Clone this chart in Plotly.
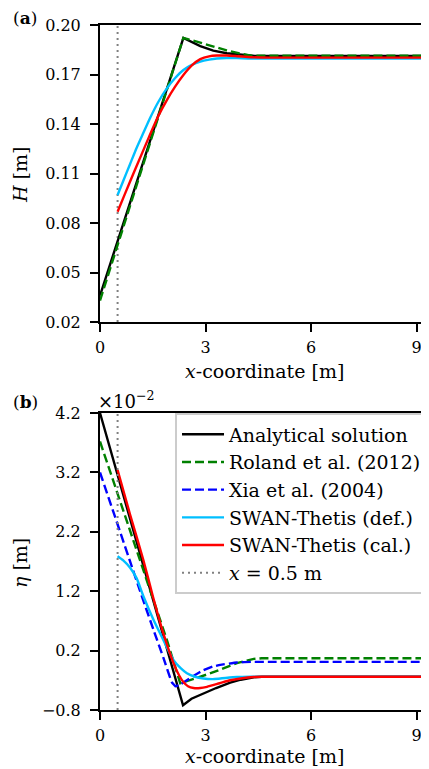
import plotly.graph_objects as go

# ---------------- data: panel (a) significant wave height H [m] ----------------
x_ana_H = [0.0, 2.37, 2.85, 3.22, 3.6, 4.0, 4.4, 9.35]
H_ana = [0.036, 0.1922, 0.1872, 0.1845, 0.1829, 0.1819, 0.1813, 0.1813]

x_rol_H = [0.0, 2.37, 2.85, 3.22, 3.6, 4.0, 4.3, 9.35]
H_rol = [0.033, 0.1922, 0.1893, 0.1868, 0.1846, 0.1826, 0.1814, 0.1814]

x_def_H = [0.5, 0.66, 0.85, 1.04, 1.23, 1.42, 1.66, 1.9, 2.13, 2.37, 2.61, 2.85,
           3.1, 3.32, 3.6, 3.89, 4.3, 4.8, 9.35]
H_def = [0.097, 0.1055, 0.1155, 0.1255, 0.1345, 0.1435, 0.1535, 0.1616, 0.1677,
         0.1727, 0.1758, 0.1778, 0.179, 0.1797, 0.18, 0.1799, 0.1796, 0.1797, 0.1797]

x_cal_H = [0.5, 0.7, 0.95, 1.2, 1.4, 1.65, 1.9, 2.13, 2.37, 2.61, 2.85, 3.1, 3.32,
           3.6, 3.9, 4.3, 4.8, 9.35]
H_cal = [0.0868, 0.0972, 0.110, 0.1225, 0.1325, 0.1445, 0.1545, 0.1625, 0.1697,
         0.1755, 0.1793, 0.181, 0.1815, 0.1815, 0.1811, 0.1805, 0.1802, 0.1802]

# ---------------- data: panel (b) set-up eta [x 1e-2 m] ----------------
x_ana_eta = [0.0, 2.36, 2.6, 2.94, 3.3, 3.7, 4.0, 4.37, 4.6, 9.35]
eta_ana = [4.2, -0.72, -0.61, -0.52, -0.43, -0.34, -0.29, -0.25, -0.24, -0.24]

x_rol_eta = [0.0, 1.9, 2.28, 2.5, 2.75, 3.1, 3.42, 3.89, 4.37, 4.6, 9.35]
eta_rol = [3.72, 0.38, -0.35, -0.31, -0.26, -0.19, -0.12, -0.01, 0.06, 0.07, 0.07]

x_xia_eta = [0.0, 0.4, 0.85, 1.14, 1.52, 1.8, 2.04, 2.14, 2.25, 2.47, 2.7, 2.94,
             3.2, 3.42, 3.89, 4.3, 4.84, 9.35]
eta_xia = [3.2, 2.5, 1.71, 1.2, 0.55, 0.08, -0.33, -0.4, -0.38, -0.3, -0.21, -0.13,
           -0.07, -0.04, 0.0, 0.01, 0.01, 0.01]

x_def_eta = [0.5, 0.66, 0.85, 1.04, 1.23, 1.52, 1.8, 2.09, 2.3, 2.47, 2.7, 2.94,
             3.2, 3.42, 3.89, 4.3, 9.35]
eta_def = [1.79, 1.72, 1.6, 1.42, 1.12, 0.72, 0.38, 0.04, -0.1, -0.18, -0.24, -0.27,
           -0.28, -0.27, -0.245, -0.24, -0.24]

x_cal_eta = [0.5, 0.85, 1.23, 1.5, 1.8, 2.09, 2.25, 2.37, 2.5, 2.66, 2.85, 3.04,
             3.4, 3.7, 4.0, 4.37, 4.6, 9.35]
eta_cal = [3.24, 2.5, 1.73, 1.12, 0.49, -0.01, -0.22, -0.33, -0.4, -0.43, -0.43,
           -0.41, -0.35, -0.3, -0.27, -0.245, -0.24, -0.24]

x_mark = [0.5, 0.5]
H_mark = [0.02, 0.20]
eta_mark = [-0.8, 4.2]

x_ticks = [0, 3, 6, 9]
H_ticks = [0.02, 0.05, 0.08, 0.11, 0.14, 0.17, 0.20]
H_ticktext = ["0.02", "0.05", "0.08", "0.11", "0.14", "0.17", "0.20"]
eta_ticks = [-0.8, 0.2, 1.2, 2.2, 3.2, 4.2]
eta_ticktext = ["\u22120.8", "0.2", "1.2", "2.2", "3.2", "4.2"]

names = ["Analytical solution", "Roland et al. (2012)", "Xia et al. (2004)",
         "SWAN-Thetis (def.)", "SWAN-Thetis (cal.)", "<i>x</i> = 0.5 m"]

# ---------------- styles ----------------
FONT = "DejaVu Serif"
LW = 2.4
DASH = "9px,4px"
c_ana, c_rol, c_xia, c_def, c_cal, c_mark = "#000000", "#008000", "#0000ff", "#00bfff", "#ff0000", "#808080"

fig = go.Figure()

# panel (a)
fig.add_trace(go.Scatter(x=x_mark, y=H_mark, mode="lines", line=dict(color=c_mark, width=2, dash="2px,4px"),
                         showlegend=False, xaxis="x", yaxis="y"))
fig.add_trace(go.Scatter(x=x_ana_H, y=H_ana, mode="lines", line=dict(color=c_ana, width=LW),
                         showlegend=False, xaxis="x", yaxis="y"))
fig.add_trace(go.Scatter(x=x_rol_H, y=H_rol, mode="lines", line=dict(color=c_rol, width=LW, dash=DASH),
                         showlegend=False, xaxis="x", yaxis="y"))
fig.add_trace(go.Scatter(x=x_def_H, y=H_def, mode="lines", line=dict(color=c_def, width=LW, shape="spline", smoothing=0.6),
                         showlegend=False, xaxis="x", yaxis="y"))
fig.add_trace(go.Scatter(x=x_cal_H, y=H_cal, mode="lines", line=dict(color=c_cal, width=LW, shape="spline", smoothing=0.6),
                         showlegend=False, xaxis="x", yaxis="y"))

# panel (b)
fig.add_trace(go.Scatter(x=x_ana_eta, y=eta_ana, mode="lines", name=names[0], legendrank=1,
                         line=dict(color=c_ana, width=LW), xaxis="x2", yaxis="y2"))
fig.add_trace(go.Scatter(x=x_rol_eta, y=eta_rol, mode="lines", name=names[1], legendrank=2,
                         line=dict(color=c_rol, width=LW, dash=DASH), xaxis="x2", yaxis="y2"))
fig.add_trace(go.Scatter(x=x_xia_eta, y=eta_xia, mode="lines", name=names[2], legendrank=3,
                         line=dict(color=c_xia, width=LW, dash=DASH, shape="spline", smoothing=0.3), xaxis="x2", yaxis="y2"))
fig.add_trace(go.Scatter(x=x_def_eta, y=eta_def, mode="lines", name=names[3], legendrank=4,
                         line=dict(color=c_def, width=LW, shape="spline", smoothing=0.6), xaxis="x2", yaxis="y2"))
fig.add_trace(go.Scatter(x=x_cal_eta, y=eta_cal, mode="lines", name=names[4], legendrank=5,
                         line=dict(color=c_cal, width=LW, shape="spline", smoothing=0.6), xaxis="x2", yaxis="y2"))
fig.add_trace(go.Scatter(x=x_mark, y=eta_mark, mode="lines", name=names[5], legendrank=6,
                         line=dict(color=c_mark, width=2, dash="2px,4px"), xaxis="x2", yaxis="y2"))

axis_common = dict(showline=True, linecolor="black", linewidth=2, ticks="outside", ticklen=8,
                   tickwidth=1.5, tickcolor="black", showgrid=False, zeroline=False,
                   tickfont=dict(family=FONT, size=16, color="black"))

# page body has an 8px margin: figure is 421x761 with reduced left/top margins
fig.update_layout(
    width=421, height=761,
    margin=dict(l=92, r=0, t=17, b=59),
    paper_bgcolor="white", plot_bgcolor="white",
    font=dict(family=FONT, size=16, color="black"),
    xaxis=dict(domain=[0, 1], range=[0, 9.35], tickvals=x_ticks, anchor="y", mirror=True,
               ticklabelstandoff=2, **axis_common),
    yaxis=dict(domain=[0.5664, 1], range=[0.02, 0.20], tickvals=H_ticks, ticktext=H_ticktext, anchor="x",
               ticklabelstandoff=6, **axis_common),
    xaxis2=dict(domain=[0, 1], range=[0, 9.35], tickvals=x_ticks, anchor="y2", mirror=True,
                ticklabelstandoff=2, **axis_common),
    yaxis2=dict(domain=[0, 0.4336], range=[-0.8, 4.2], tickvals=eta_ticks, ticktext=eta_ticktext, anchor="x2",
                ticklabelstandoff=6, **axis_common),
    showlegend=True,
    legend=dict(x=0.228, y=0.433, xanchor="left", yanchor="top", bgcolor="white",
                bordercolor="#cccccc", borderwidth=2, font=dict(family=FONT, size=19, color="black"),
                tracegroupgap=0, itemwidth=42),
)

ann = [
    dict(text="<i>x</i>-coordinate [m]", x=0.5, y=0.4949, size=19),
    dict(text="<i>x</i>-coordinate [m]", x=0.5, y=-0.0665, size=19),
    dict(text="<i>H</i> [m]", x=-0.243, y=0.781, textangle=-90, size=19),
    dict(text="<i>\u03b7</i> [m]", x=-0.243, y=0.2146, textangle=-90, size=19),
    dict(text="(<b>a</b>)", x=-0.228, y=1.0102, size=17),
    dict(text="(<b>b</b>)", x=-0.225, y=0.4496, size=17),
    dict(text="\u00d710<sup>\u22122</sup>", x=0.082, y=0.4526, size=18),
]
for a in ann:
    sz = a.pop("size")
    fig.add_annotation(xref="paper", yref="paper", xanchor="center", yanchor="middle",
                       showarrow=False, font=dict(family=FONT, size=sz, color="black"), **a)

fig.write_html("out.html")
